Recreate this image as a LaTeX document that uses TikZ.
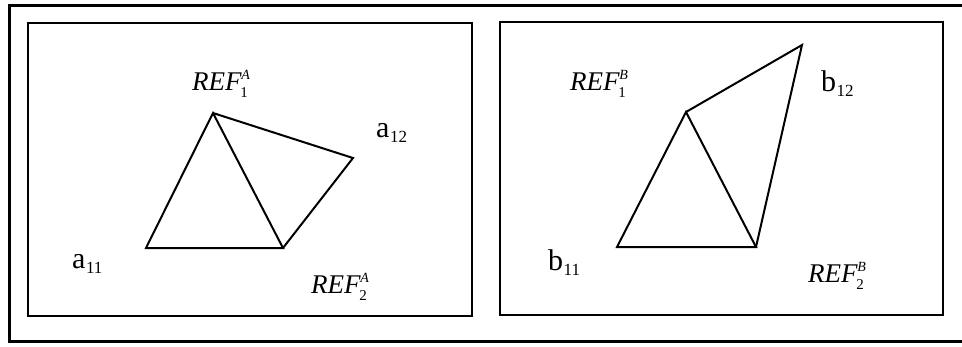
\documentclass[tikz,border=0pt]{standalone}
\usepackage{fontspec}
\setmainfont{Liberation Serif}
\newcommand{\reflab}[2]{\textit{REF}\kern-1.5pt\rlap{\raisebox{-7pt}{\fontsize{15}{15}\selectfont #1}}\kern1pt\raisebox{11pt}{\fontsize{14}{14}\selectfont\itshape #2}}
\newcommand{\plab}[2]{#1\kern0.5pt\raisebox{-5pt}{\fontsize{17}{17}\selectfont #2}}
\begin{document}
\begin{tikzpicture}[x=1pt,y=-1pt,
  frame/.style={draw=black,line width=3pt},
  panel/.style={draw=black,line width=2.2pt},
  edge/.style={draw=black,line width=2pt,line join=miter},
  lab/.style={font=\fontsize{27}{29}\selectfont,inner sep=0pt,anchor=base west},
  plain/.style={font=\fontsize{30}{32}\selectfont,inner sep=0pt,anchor=base west}]
\useasboundingbox (0,0) rectangle (962,346);
\fill[white] (0,0) rectangle (962,346);
\draw[frame] (9,5) rectangle (966,341);
\draw[panel] (28,23) rectangle (472,316);
\draw[panel] (500,22) rectangle (943,315);
% panel A
\coordinate (A1) at (213,113);
\coordinate (A11) at (146,248);
\coordinate (A2) at (283,248);
\coordinate (A12) at (353,158);
\draw[edge] (A11) -- (A1) -- (A2) -- cycle;
\draw[edge] (A1) -- (A12) -- (A2);
\node[lab] (lA1) at (192,90) {\reflab{1}{A}};
\node[plain] (la12) at (376,137) {\plab{a}{12}};
\node[plain] (la11) at (72,268) {\plab{a}{11}};
\node[lab] (lA2) at (311,293) {\reflab{2}{A}};
% panel B
\coordinate (B1) at (686,112);
\coordinate (B11) at (617,247);
\coordinate (B2) at (756,247);
\coordinate (B12) at (802,45);
\draw[edge] (B11) -- (B1) -- (B2) -- cycle;
\draw[edge] (B1) -- (B12) -- (B2);
\node[lab] (lB1) at (570,90) {\reflab{1}{B}};
\node[plain] (lb12) at (821,91) {\plab{b}{12}};
\node[plain] (lb11) at (548,270) {\plab{b}{11}};
\node[lab] (lB2) at (808,282) {\reflab{2}{B}};
\end{tikzpicture}
\end{document}
